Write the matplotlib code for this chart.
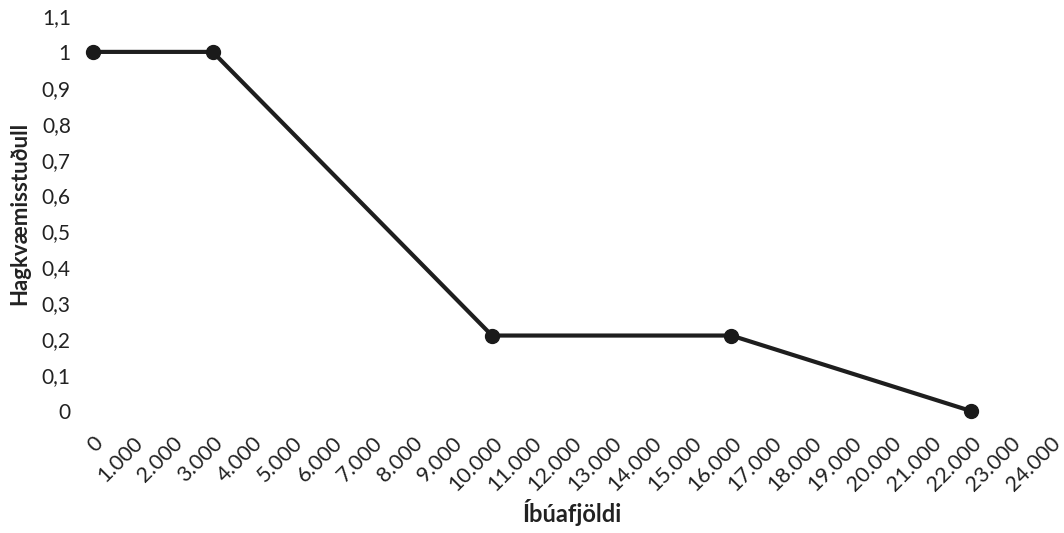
import matplotlib
matplotlib.use("Agg")
import matplotlib.pyplot as plt
from matplotlib.ticker import FuncFormatter

plt.rcParams['font.family'] = ['Lato', 'DejaVu Sans']

population = [0, 3000, 10000, 16000, 22000]
efficiency = [1.0, 1.0, 0.21, 0.21, 0.0]
x_ticks = list(range(0, 24001, 1000))
y_ticks = [round(0.1 * i, 1) for i in range(12)]

fig = plt.figure(figsize=(10.64, 5.33), dpi=100)
ax = fig.add_axes([0.0874, 0.229, 0.900, 0.741])

ax.plot(population, efficiency, color='#1e1e1e', lw=3, marker='o', ms=10,
        mfc='#1a1a1a', mec='#1a1a1a', solid_capstyle='round', clip_on=False)

ax.set_xlim(0, 24000)
ax.set_ylim(0, 1.1)
ax.set_xticks(x_ticks)
ax.set_yticks(y_ticks)

def fmt_x(v, pos):
    return f"{int(v):,}".replace(",", ".")

def fmt_y(v, pos):
    s = f"{v:.1f}".rstrip('0').rstrip('.')
    return s.replace('.', ',')

ax.xaxis.set_major_formatter(FuncFormatter(fmt_x))
ax.yaxis.set_major_formatter(FuncFormatter(fmt_y))

for s in ax.spines.values():
    s.set_visible(False)
ax.tick_params(axis='both', length=0, colors='#222222')
ax.tick_params(axis='y', pad=16, labelsize=15)
ax.tick_params(axis='x', pad=16, labelsize=15.5)
for lab in ax.get_xticklabels():
    lab.set_rotation(45)
    lab.set_ha('right')
    lab.set_va('top')
    lab.set_rotation_mode('anchor')

ax.set_xlabel('Íbúafjöldi', fontsize=17, fontweight='bold', color='#222222')
ax.set_ylabel('Hagkvæmisstuðull', fontsize=16, fontweight='bold', color='#222222')
ax.xaxis.set_label_coords(0.5, -0.258)
ax.xaxis.label.set_va('center')
ax.yaxis.set_label_coords(-0.0763, 0.5)
ax.yaxis.label.set_va('center')

fig.savefig('out.png', dpi=100)
